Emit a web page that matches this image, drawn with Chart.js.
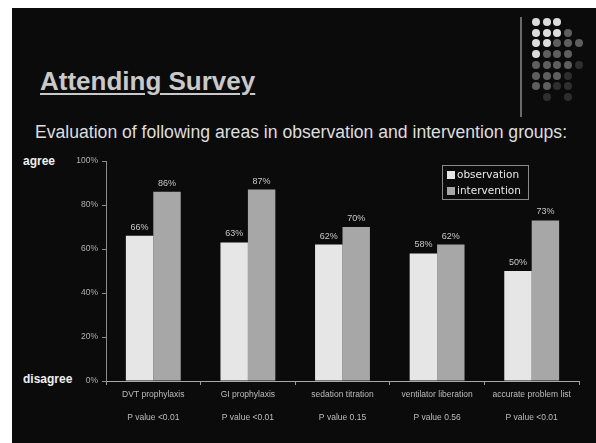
<!DOCTYPE html>
<html>
<head>
<meta charset="utf-8">
<script src="https://cdn.jsdelivr.net/npm/chart.js@4.4.1/dist/chart.umd.min.js"></script>
<style>
  html, body { margin: 0; padding: 0; background: #fff; }
  body { width: 596px; height: 443px; position: relative; overflow: hidden; font-family: Arial, "Liberation Sans", sans-serif; }
  #slide { position: absolute; left: 12px; top: 8px; width: 584px; height: 435px; background: #0b0b0b; }
  #title { position: absolute; left: 40px; top: 66px; font-size: 26px; font-weight: bold; color: #c9c9c9; text-decoration: underline; text-underline-offset: 3px; text-decoration-thickness: 2px; }
  #subtitle { position: absolute; left: 35px; top: 122px; font-size: 17.6px; color: #dedede; white-space: nowrap; }
  .side { position: absolute; left: 23px; font-size: 12px; font-weight: bold; color: #f0f0f0; }
  #rule { position: absolute; left: 520px; top: 17px; width: 2px; height: 100px; background: #6a6a6a; }
  .dot { position: absolute; width: 8px; height: 8px; border-radius: 50%; }
  #wrap { position: absolute; left: 0; top: 0; width: 596px; height: 443px; }
</style>
</head>
<body>
<div id="slide"></div>
<div id="rule"></div>
<div id="dots"></div>
<div id="title">Attending Survey</div>
<div id="subtitle">Evaluation of following areas in observation and intervention groups:</div>
<div class="side" style="top:154px">agree</div>
<div class="side" style="top:372px">disagree</div>
<div id="wrap"><canvas id="chart" width="596" height="443"></canvas></div>
<script>
// survey data
const categories = ["DVT prophylaxis", "GI prophylaxis", "sedation titration", "ventilator liberation", "accurate problem list"];
const pValues = ["P value <0.01", "P value <0.01", "P value 0.15", "P value 0.56", "P value <0.01"];
const observation = [66, 63, 62, 58, 50];
const intervention = [86, 87, 70, 62, 73];
const yTicks = [0, 20, 40, 60, 80, 100];

// corner dot pattern (0 = empty, 1 = bright, 2 = dim, 3 = dark)
const dotRows = [
  [1, 1, 1, 0, 0],
  [1, 1, 1, 2, 0],
  [1, 1, 2, 2, 2],
  [1, 2, 2, 2, 0],
  [2, 2, 2, 2, 3],
  [2, 2, 2, 3, 0],
  [2, 2, 3, 3, 0],
  [0, 3, 0, 3, 0]
];
const dotShades = { 1: "#dcdcdc", 2: "#5e5e5e", 3: "#2e2e2e" };
const dotsBox = document.getElementById("dots");
dotRows.forEach((row, r) => {
  row.forEach((v, c) => {
    if (!v) return;
    const d = document.createElement("div");
    d.className = "dot";
    d.style.left = (532 + c * 10.7) + "px";
    d.style.top = (18 + r * 10.7) + "px";
    d.style.background = dotShades[v];
    dotsBox.appendChild(d);
  });
});

// percentages above each bar
const valueLabels = {
  id: "valueLabels",
  afterDatasetsDraw(chart) {
    const ctx = chart.ctx;
    ctx.save();
    ctx.font = "9px Arial";
    ctx.fillStyle = "#c8c8c8";
    ctx.textAlign = "center";
    ctx.textBaseline = "bottom";
    chart.data.datasets.forEach((ds, i) => {
      chart.getDatasetMeta(i).data.forEach((bar, j) => {
        ctx.fillText(ds.data[j] + "%", bar.x, bar.y - 4);
      });
    });
    ctx.restore();
  }
};

// boxed legend in the upper right of the plot
const boxLegend = {
  id: "boxLegend",
  afterDraw(chart) {
    const ctx = chart.ctx;
    const area = chart.chartArea;
    const x = area.right - 137, y = area.top + 4, w = 86, h = 34;
    ctx.save();
    ctx.strokeStyle = "#8a8a8a";
    ctx.lineWidth = 1;
    ctx.strokeRect(x + 0.5, y + 0.5, w, h);
    ctx.font = "10.5px 'DejaVu Sans'";
    ctx.textBaseline = "middle";
    chart.data.datasets.forEach((ds, i) => {
      const cy = y + 10 + i * 16;
      ctx.fillStyle = ds.backgroundColor;
      ctx.fillRect(x + 5, cy - 4, 8, 8);
      ctx.fillStyle = "#e8e8e8";
      ctx.fillText(ds.label, x + 15, cy);
    });
    ctx.restore();
  }
};

new Chart(document.getElementById("chart"), {
  type: "bar",
  data: {
    labels: categories.map((c, i) => [c, pValues[i]]),
    datasets: [
      { label: "observation", data: observation, backgroundColor: "#e6e6e6", barPercentage: 1, categoryPercentage: 0.58 },
      { label: "intervention", data: intervention, backgroundColor: "#a7a7a7", barPercentage: 1, categoryPercentage: 0.58 }
    ]
  },
  options: {
    responsive: false,
    devicePixelRatio: 1,
    animation: false,
    layout: { padding: { left: 56, right: 17, top: 161, bottom: 12 } },
    plugins: { legend: { display: false }, tooltip: { enabled: false } },
    scales: {
      x: {
        afterFit: (s) => { s.height = 50; },
        grid: { offset: true, drawOnChartArea: false, drawTicks: true, tickLength: 4, color: "#9a9a9a" },
        border: { color: "#a8a8a8", width: 1 },
        ticks: { color: "#bdbdbd", padding: -2, font: { family: "Arial", size: 8.5, lineHeight: 2.7 } }
      },
      y: {
        min: 0,
        max: 100,
        afterFit: (s) => { s.width = 50; },
        afterBuildTicks: (s) => { s.ticks = yTicks.map((v) => ({ value: v })); },
        grid: { drawOnChartArea: false, drawTicks: true, tickLength: 4, color: "#8c8c8c" },
        border: { color: "#8c8c8c", width: 1 },
        ticks: { color: "#b0b0b0", padding: 4, font: { family: "Arial", size: 8.5 }, callback: (v) => v + "%" }
      }
    }
  },
  plugins: [valueLabels, boxLegend]
});
</script>
</body>
</html>
